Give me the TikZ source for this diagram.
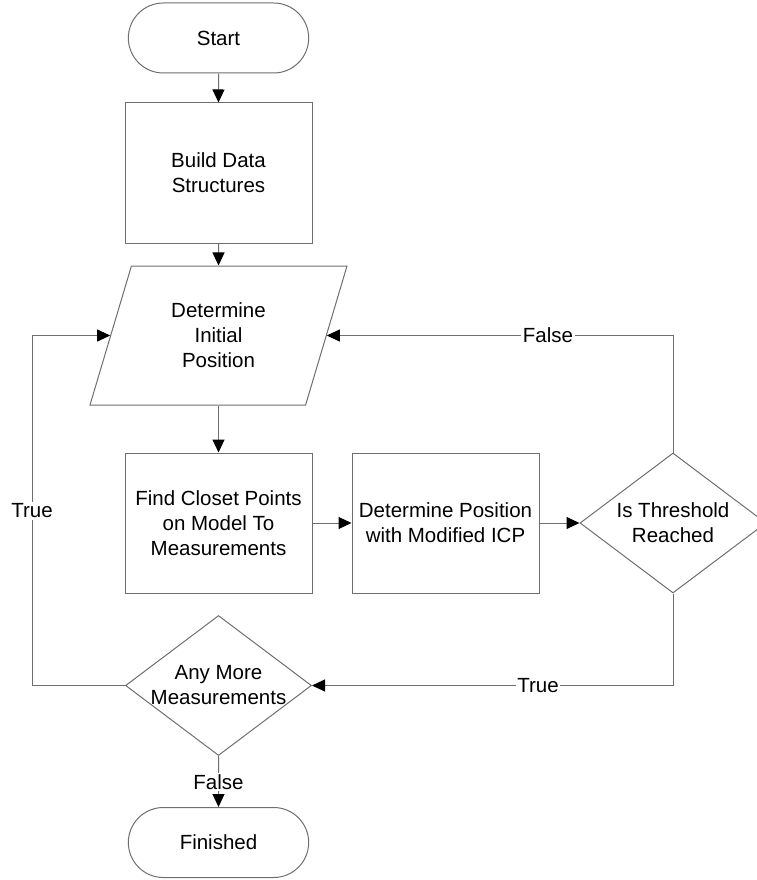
\documentclass[tikz,border=0pt]{standalone}
\usepackage{fontspec}
\setmainfont{Liberation Sans}
\usetikzlibrary{shapes.geometric,shapes.misc,arrows.meta}
\definecolor{linegray}{RGB}{110,110,110}

\tikzset{
    every node/.style={font=\fontsize{20.5}{25}\selectfont, align=center},
    term/.style={rounded rectangle, draw=linegray, line width=1pt, minimum width=187pt, minimum height=70pt},
    box/.style={rectangle, draw=linegray, line width=1pt, minimum width=187pt, minimum height=140pt},
    io/.style={trapezium, trapezium left angle=60, trapezium right angle=120, trapezium stretches body=true,
        draw=linegray, line width=1pt, minimum width=257pt, minimum height=139pt},
    dec/.style={diamond, draw=linegray, line width=1pt, minimum width=186pt, minimum height=140pt, inner sep=0pt},
    lbl/.style={fill=white, inner sep=1.5pt},
    flow/.style={draw=linegray, line width=1pt, -{Triangle[length=13pt,width=12pt,color=black]}}
}

\begin{document}
\begin{tikzpicture}[x=1pt,y=-1pt]
    \useasboundingbox (0,0) rectangle (756,880);
    \node[term] (start) at (218.5,38) {Start};
    \node[box] (build) at (218.5,173) {Build Data\\Structures};
    \node[io] (init) at (218.5,335.5) {Determine\\Initial\\Position};
    \node[box] (closest) at (218.5,523) {Find Closet Points\\on Model To\\Measurements};
    \node[box] (icp) at (445.5,523) {Determine Position\\with Modified ICP};
    \node[dec, label={[align=center]center:{Is Threshold\\Reached}}] (thresh) at (673,523) {};
    \node[dec, label={[align=center]center:{Any More\\Measurements}}] (more) at (218.5,685.5) {};
    \node[term] (finish) at (218.5,842.5) {Finished};
    \coordinate (back) at (32,685.5);

    \draw[flow] (start) -- (build);
    \draw[flow] (build) -- (init);
    \draw[flow] (init) -- (closest);
    \draw[flow] (closest) -- (icp);
    \draw[flow] (icp) -- (thresh);
    \draw[flow] (thresh.north) |- (init);
    \draw[flow] (thresh.south) |- (more.east);
    \draw[flow] (more.west) -- (back) |- (init);
    \draw[flow] (more) -- (finish);

    \node[lbl] (nofit) at (548,335.5) {False};
    \node[lbl] (fit) at (538,685.5) {True};
    \node[lbl] (again) at (32,511) {True};
    \node[lbl] (done) at (218.5,782) {False};
\end{tikzpicture}
\end{document}
